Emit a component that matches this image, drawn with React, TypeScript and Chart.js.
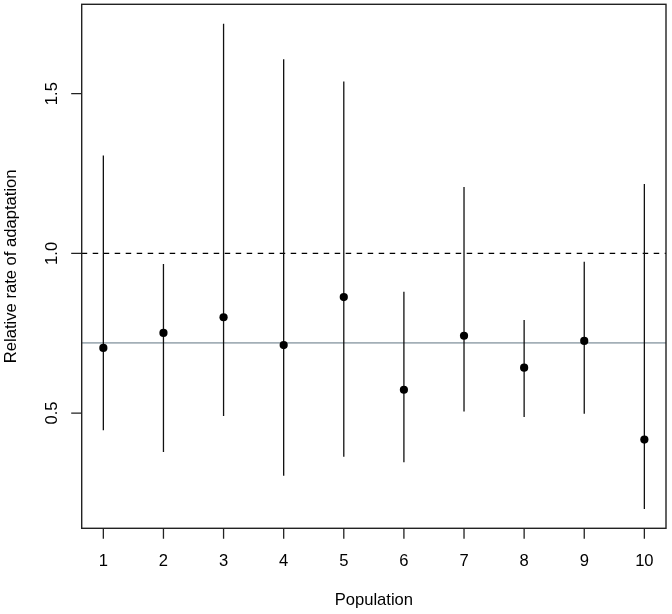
import React, { useEffect, useRef } from "react";
import { Chart, registerables } from "chart.js";

Chart.register(...registerables);

// ---- data ----
const populations = [1, 2, 3, 4, 5, 6, 7, 8, 9, 10];
const estimate = [0.704, 0.751, 0.8, 0.713, 0.863, 0.573, 0.742, 0.642, 0.726, 0.417];
const lower = [0.446, 0.378, 0.491, 0.304, 0.363, 0.346, 0.505, 0.488, 0.498, 0.2];
const upper = [1.306, 0.967, 1.719, 1.608, 1.538, 0.88, 1.208, 0.791, 0.974, 1.217];
const xTickValues = [1, 2, 3, 4, 5, 6, 7, 8, 9, 10];
const xTickLabels = ["1", "2", "3", "4", "5", "6", "7", "8", "9", "10"];
const yTickValues = [0.5, 1.0, 1.5];
const yTickLabels = ["0.5", "1.0", "1.5"];
const referenceLine = 1.0;
const meanLine = 0.72;
const xTitle = "Population";
const yTitle = "Relative rate of adaptation";

// R-style 4% axis extension
const xLo = Math.min(...populations);
const xHi = Math.max(...populations);
const xPad = (xHi - xLo) * 0.04;
const yLo = Math.min(...lower);
const yHi = Math.max(...upper);
const yPad = (yHi - yLo) * 0.04;

const FONT = '"Liberation Sans", Arial, Helvetica, sans-serif';
const FS = 16.6;

const rPlot = {
  id: "rPlot",
  beforeDatasetsDraw(chart: any) {
    const { ctx, chartArea: a, scales } = chart;
    const ys = scales.y;
    ctx.save();
    // mean line (grey)
    const ym = ys.getPixelForValue(meanLine);
    ctx.strokeStyle = "#a3afb7";
    ctx.lineWidth = 1.7;
    ctx.beginPath();
    ctx.moveTo(a.left, ym);
    ctx.lineTo(a.right, ym);
    ctx.stroke();
    // dashed reference line
    const yr = ys.getPixelForValue(referenceLine);
    ctx.strokeStyle = "#000";
    ctx.lineWidth = 1.3;
    ctx.setLineDash([5.5, 5.5]);
    ctx.beginPath();
    ctx.moveTo(a.left, yr);
    ctx.lineTo(a.right, yr);
    ctx.stroke();
    ctx.restore();
  },
  afterDraw(chart: any) {
    const { ctx, chartArea: a, scales } = chart;
    const xs = scales.x;
    const ys = scales.y;
    ctx.save();
    // box
    ctx.strokeStyle = "#222";
    ctx.lineWidth = 1.4;
    ctx.strokeRect(a.left, a.top, a.right - a.left, a.bottom - a.top);
    // tick marks
    ctx.lineWidth = 1.3;
    ctx.beginPath();
    xTickValues.forEach((v) => {
      const px = xs.getPixelForValue(v);
      ctx.moveTo(px, a.bottom);
      ctx.lineTo(px, a.bottom + 10.5);
    });
    yTickValues.forEach((v) => {
      const py = ys.getPixelForValue(v);
      ctx.moveTo(a.left, py);
      ctx.lineTo(a.left - 10.5, py);
    });
    ctx.stroke();
    // tick labels
    ctx.fillStyle = "#000";
    ctx.font = `${FS}px ${FONT}`;
    ctx.textAlign = "center";
    ctx.textBaseline = "alphabetic";
    xTickValues.forEach((v, i) => {
      ctx.fillText(xTickLabels[i], xs.getPixelForValue(v), 566);
    });
    yTickValues.forEach((v, i) => {
      ctx.save();
      ctx.translate(56.7, ys.getPixelForValue(v));
      ctx.rotate(-Math.PI / 2);
      ctx.fillText(yTickLabels[i], 0, 0);
      ctx.restore();
    });
    // titles
    ctx.fillText(xTitle, (a.left + a.right) / 2, 604.5);
    ctx.save();
    ctx.translate(15.5, (a.top + a.bottom) / 2);
    ctx.rotate(-Math.PI / 2);
    ctx.fillText(yTitle, 0, 0);
    ctx.restore();
    ctx.restore();
  },
};

export default function App() {
  const ref = useRef<HTMLCanvasElement>(null);
  useEffect(() => {
    if (!ref.current) return;
    const barData: any[] = [];
    populations.forEach((p, i) => {
      barData.push({ x: p, y: lower[i] });
      barData.push({ x: p, y: upper[i] });
      barData.push({ x: p, y: null });
    });
    const chart = new Chart(ref.current, {
      type: "scatter",
      data: {
        datasets: [
          {
            label: "estimate",
            data: populations.map((p, i) => ({ x: p, y: estimate[i] })),
            backgroundColor: "#000",
            borderColor: "#000",
            pointRadius: 4.1,
            pointBorderWidth: 0,
            showLine: false,
          },
          {
            label: "interval",
            data: barData,
            borderColor: "#111",
            borderWidth: 1.3,
            pointRadius: 0,
            showLine: true,
            spanGaps: false,
          } as any,
        ],
      },
      options: {
        responsive: false,
        animation: false,
        devicePixelRatio: 1,
        layout: { padding: { left: 0, top: 4.3, right: 6, bottom: 0 } },
        plugins: { legend: { display: false }, tooltip: { enabled: false } },
        scales: {
          x: {
            type: "linear",
            min: xLo - xPad,
            max: xHi + xPad,
            grid: { display: false },
            border: { display: false },
            ticks: { display: false },
            afterBuildTicks: (s: any) => {
              s.ticks = xTickValues.map((v) => ({ value: v }));
            },
            afterFit: (s: any) => {
              s.height = 85.7;
            },
          },
          y: {
            type: "linear",
            min: yLo - yPad,
            max: yHi + yPad,
            grid: { display: false },
            border: { display: false },
            ticks: { display: false },
            afterBuildTicks: (s: any) => {
              s.ticks = yTickValues.map((v) => ({ value: v }));
            },
            afterFit: (s: any) => {
              s.width = 81.7;
            },
          },
        },
      },
      plugins: [rPlot],
    });
    return () => chart.destroy();
  }, []);
  return (
    <div style={{ position: "absolute", left: 0, top: 0, width: 672, height: 614, background: "#fff" }}>
      <canvas ref={ref} width={672} height={614} style={{ display: "block", width: 672, height: 614 }} />
    </div>
  );
}
